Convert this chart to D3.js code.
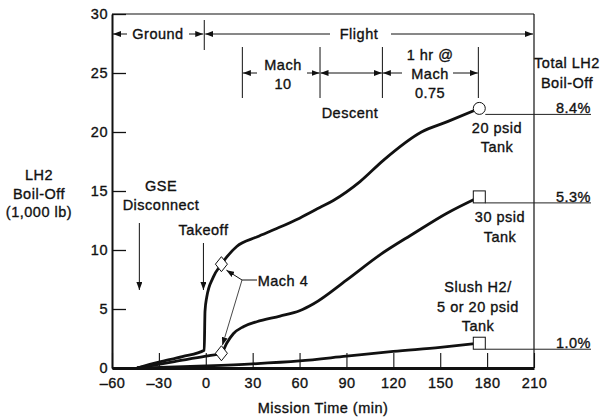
<!DOCTYPE html>
<html><head><meta charset="utf-8">
<script src="https://cdn.jsdelivr.net/npm/d3@7"></script>
<style>
body{margin:0;background:#fff}
text{font-family:"Liberation Sans",Arial,Helvetica,sans-serif;fill:#111;font-size:14.5px;letter-spacing:0.5px;stroke:#111;stroke-width:0.35px}
</style>
</head><body><svg id="c" width="608" height="418"></svg>
<script>
// ---- data ----
const xTicks = [-60,-30,0,30,60,90,120,150,180,210];
const yTicks = [0,5,10,15,20,25,30];
const tank20psid = [[-44,0],[-30,0.49],[-15,0.97],[-1,1.5],[-0.5,4.8],[0.6,6.0],[4.8,7.7],[10,8.8],[19.8,10.3],[32.6,11.1],[45,11.8],[60,12.7],[73,13.6],[81.6,14.2],[98.7,15.8],[113.6,17.6],[138,20.0],[155,20.9],[175,22.0]];
const tank30psid = [[-44,0],[-20,0.55],[0,1.0],[10,1.25],[13.4,2.1],[17.6,2.9],[24,3.5],[32.6,3.92],[47.5,4.4],[60,4.85],[69,5.45],[90,7.45],[111,9.55],[133,11.4],[154,13.1],[175,14.5]];
const slushTank = [[-44,0],[0,0.18],[30,0.35],[60,0.6],[90,1.0],[120,1.4],[150,1.75],[175,2.1]];
const endLabels = ["8.4%","5.3%","1.0%"];
const tankLabels = [["20 psid","Tank"],["30 psid","Tank"],["Slush H2/","5 or 20 psid","Tank"]];
const mach4Time = 10;
const phaseBounds = [23.4, 73.1, 113, 174.4]; // Mach 10 | Descent | 1 hr @ Mach 0.75
const gseTime = -42.5, takeoffTime = -1.5;

// ---- scales ----
const svg = d3.select("#c");
const x = d3.scaleLinear().domain([-60,210]).range([112,534]);
const y = d3.scaleLinear().domain([0,30]).range([368,14]);

const defs = svg.append("defs");
defs.append("marker").attr("id","ah").attr("viewBox","0 0 8 6").attr("refX",8).attr("refY",3)
  .attr("markerWidth",8).attr("markerHeight",6).attr("markerUnits","userSpaceOnUse").attr("orient","auto")
  .append("path").attr("d","M0,0L8,3L0,6Z").attr("fill","#111");

// frame
svg.append("line").attr("x1",x(-60)).attr("x2",x(210)).attr("y1",y(30)).attr("y2",y(30)).attr("stroke","#111").attr("stroke-width",1.2);
svg.append("line").attr("x1",x(210)).attr("x2",x(210)).attr("y1",y(30)).attr("y2",y(0)).attr("stroke","#111").attr("stroke-width",1.2);

// axes
const ga = svg.append("g").attr("transform",`translate(${x(-60)},0)`)
  .call(d3.axisLeft(y).tickValues(yTicks).tickSize(-14).tickSizeOuter(0).tickPadding(4).tickFormat(d3.format("d")));
ga.select(".domain").attr("stroke","#111").attr("stroke-width",2);
ga.selectAll(".tick line").attr("stroke","#111").attr("stroke-width",1.3);
ga.selectAll("text").attr("font-size",14.5).attr("font-family",null).attr("fill","#111");

const gb = svg.append("g").attr("transform",`translate(0,${y(0)})`)
  .call(d3.axisBottom(x).tickValues(xTicks).tickSize(-15).tickSizeOuter(0).tickPadding(6).tickFormat(d=> d<0 ? "–"+Math.abs(d) : d));
gb.select(".domain").attr("stroke","#111").attr("stroke-width",3);
gb.selectAll(".tick line").attr("stroke","#111").attr("stroke-width",1.1);
gb.selectAll("text").attr("font-size",14.5).attr("font-family",null).attr("fill","#111").attr("dy","0.95em");

// curves
const line = d3.line().x(d=>x(d[0])).y(d=>y(d[1])).curve(d3.curveMonotoneX);
[tank20psid,tank30psid,slushTank].forEach(s=>{
  svg.append("path").attr("d",line(s)).attr("fill","none").attr("stroke","#111").attr("stroke-width",2.8).attr("stroke-linejoin","round");
});

// Mach 4 leaders
const d20 = tank20psid.find(d=>d[0]===mach4Time), d30 = tank30psid.find(d=>d[0]===mach4Time);
const jx = 242, jy = 280;
svg.append("line").attr("x1",jx).attr("y1",jy).attr("x2",257).attr("y2",jy).attr("stroke","#111").attr("stroke-width",1);
svg.append("line").attr("x1",jx).attr("y1",jy).attr("x2",x(d20[0])+5).attr("y2",y(d20[1])+6).attr("stroke","#111").attr("stroke-width",1).attr("marker-end","url(#ah)");
svg.append("line").attr("x1",jx).attr("y1",jy).attr("x2",x(d30[0])+1).attr("y2",y(d30[1])-8).attr("stroke","#333").attr("stroke-width",0.9).attr("marker-end","url(#ah)");
svg.append("text").attr("x",283).attr("y",286).attr("text-anchor","middle").text("Mach 4");

// diamonds
[d20,d30].forEach(d=>{
  const cx=x(d[0]), cy=y(d[1]);
  svg.append("path").attr("d",`M${cx},${cy-7.5}L${cx+6},${cy}L${cx},${cy+7.5}L${cx-6},${cy}Z`).attr("fill","#fff").attr("stroke","#111").attr("stroke-width",1);
});

// end markers + leader lines + labels
const ends = [tank20psid,tank30psid,slushTank].map(s=>s[s.length-1]);
ends.forEach((d,i)=>{
  const cx=x(d[0]), cy=y(d[1]);
  svg.append("line").attr("x1",cx+6).attr("x2",591).attr("y1",cy+6).attr("y2",cy+6).attr("stroke","#222").attr("stroke-width",1);
  if(i===0) svg.append("circle").attr("cx",cx).attr("cy",cy).attr("r",6).attr("fill","#fff").attr("stroke","#111").attr("stroke-width",1);
  else svg.append("rect").attr("x",cx-6).attr("y",cy-6).attr("width",12).attr("height",12).attr("fill","#fff").attr("stroke","#111").attr("stroke-width",1);
  svg.append("text").attr("x",591).attr("y",cy+5).attr("text-anchor","end").text(endLabels[i]);
});

function lines(xc, yb, arr, gap){
  arr.forEach((t,i)=>svg.append("text").attr("x",xc).attr("y",yb+i*gap).attr("text-anchor","middle").text(t));
}
lines(497,133,tankLabels[0],19);
lines(500,222,tankLabels[1],20);
lines(478,292,tankLabels[2],19.7);

// right title
lines(567,68,["Total LH2","Boil-Off"],20);
// y label
lines(39,180,["LH2","Boil-Off","(1,000 lb)"],18.5);
// x label
svg.append("text").attr("x",323).attr("y",413).attr("text-anchor","middle").text("Mission Time (min)");

// GSE / Takeoff
lines(161,191,["GSE","Disconnect"],19);
svg.append("line").attr("x1",x(gseTime)).attr("x2",x(gseTime)).attr("y1",223).attr("y2",290).attr("stroke","#111").attr("stroke-width",1).attr("marker-end","url(#ah)");
svg.append("text").attr("x",x(takeoffTime)).attr("y",235).attr("text-anchor","middle").text("Takeoff");
svg.append("line").attr("x1",x(takeoffTime)).attr("x2",x(takeoffTime)).attr("y1",243).attr("y2",290).attr("stroke","#111").attr("stroke-width",1).attr("marker-end","url(#ah)");

// phase row 1
function arrow(x1,y1,x2,y2){svg.append("line").attr("x1",x1).attr("y1",y1).attr("x2",x2).attr("y2",y2).attr("stroke","#111").attr("stroke-width",1).attr("marker-end","url(#ah)");}
function vline(xx,y1,y2){svg.append("line").attr("x1",xx).attr("x2",xx).attr("y1",y1).attr("y2",y2).attr("stroke","#111").attr("stroke-width",1);}
const r1 = 34;
vline(x(0)-1.5,20,50);
arrow(127,r1,x(-60)+1,r1);
arrow(189,r1,x(0)-2.5,r1);
arrow(330,r1,x(0)-0.5,r1);
arrow(391,r1,x(210)-1,r1);
svg.append("text").attr("x",158).attr("y",r1+5).attr("text-anchor","middle").text("Ground");
svg.append("text").attr("x",359).attr("y",r1+5).attr("text-anchor","middle").text("Flight");

// phase row 2
const r2 = 73;
phaseBounds.forEach(b=>vline(x(b),47,98));
arrow(257,r2,x(phaseBounds[0])+0.5,r2);
arrow(307,r2,x(phaseBounds[1])-0.5,r2);
lines(283,70,["Mach","10"],18.5);
arrow(350,r2,x(phaseBounds[1])+0.5,r2);
arrow(350,r2,x(phaseBounds[2])-0.5,r2);
svg.append("text").attr("x",350).attr("y",118).attr("text-anchor","middle").text("Descent");
arrow(402,r2,x(phaseBounds[2])+0.5,r2);
arrow(453,r2,x(phaseBounds[3])-0.5,r2);
lines(430,60,["1 hr @","Mach","0.75"],19);
</script>
</body></html>
